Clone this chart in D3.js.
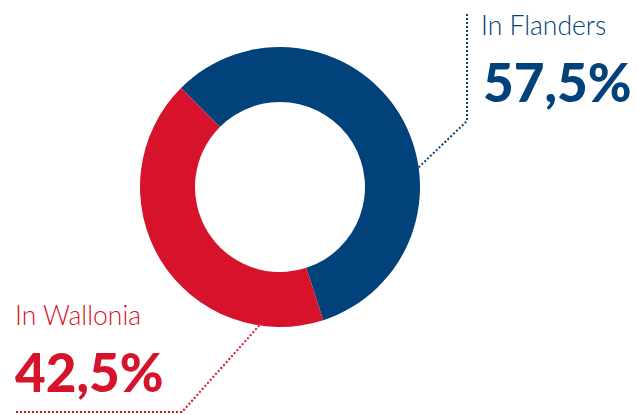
<!DOCTYPE html>
<html>
<head>
<meta charset="utf-8">
<script src="https://cdn.jsdelivr.net/npm/d3@7"></script>
<style>
  body { margin: 0; background: #fff; }
  svg { display: block; }
</style>
</head>
<body>
<div id="chart"></div>
<script>
var regions = ["In Flanders", "In Wallonia"];
var shares = [57.5, 42.5];
var shareLabels = ["57,5%", "42,5%"];
var colors = ["#02427a", "#d7132b"];

window.onload = () => {
  var width = 638,
    height = 415,
    cx = 280,
    cy = 187,
    outer = 140,
    inner = 85;

  var svg = d3.select("#chart").append("svg")
    .attr("width", width)
    .attr("height", height);

  var pie = d3.pie()
    .sort(null)
    .startAngle(-Math.PI / 4)
    .endAngle(2 * Math.PI - Math.PI / 4);

  var arc = d3.arc()
    .innerRadius(inner)
    .outerRadius(outer);

  var g = svg.append("g")
    .attr("transform", "translate(" + cx + "," + cy + ")");

  var arcs = pie(shares);

  g.selectAll("path")
    .data(arcs)
    .enter().append("path")
    .attr("d", arc)
    .attr("fill", (d, i) => colors[i]);

  // leader lines start on the outer edge of the ring
  var edge = d3.arc().innerRadius(outer).outerRadius(outer);
  var pF = edge.centroid({ startAngle: 1.43, endAngle: 1.43 });
  var pW = edge.centroid({ startAngle: 3.29, endAngle: 3.29 });

  var line = d3.line();
  svg.append("path")
    .attr("d", line([[cx + pF[0], cy + pF[1]], [467, 121], [467, 13]]))
    .attr("fill", "none")
    .attr("stroke", colors[0])
    .attr("stroke-width", 2)
    .attr("stroke-dasharray", "2,2");

  svg.append("path")
    .attr("d", line([[cx + pW[0], cy + pW[1]], [182, 412], [15, 412]]))
    .attr("fill", "none")
    .attr("stroke", colors[1])
    .attr("stroke-width", 2)
    .attr("stroke-dasharray", "2,2");

  // labels
  var labelPos = [[481, 35, 483, 102], [15, 325, 15, 392]];
  regions.forEach((r, i) => {
    svg.append("text")
      .attr("x", labelPos[i][0])
      .attr("y", labelPos[i][1])
      .attr("fill", colors[i])
      .style("font-family", "Lato, sans-serif")
      .style("font-weight", 300)
      .style("font-size", "26.5px")
      .text(r);
    svg.append("text")
      .attr("x", labelPos[i][2])
      .attr("y", labelPos[i][3])
      .attr("fill", colors[i])
      .style("font-family", "Lato, sans-serif")
      .style("font-weight", 900)
      .style("font-size", "53px")
      .text(shareLabels[i]);
  });
}
</script>
</body>
</html>
